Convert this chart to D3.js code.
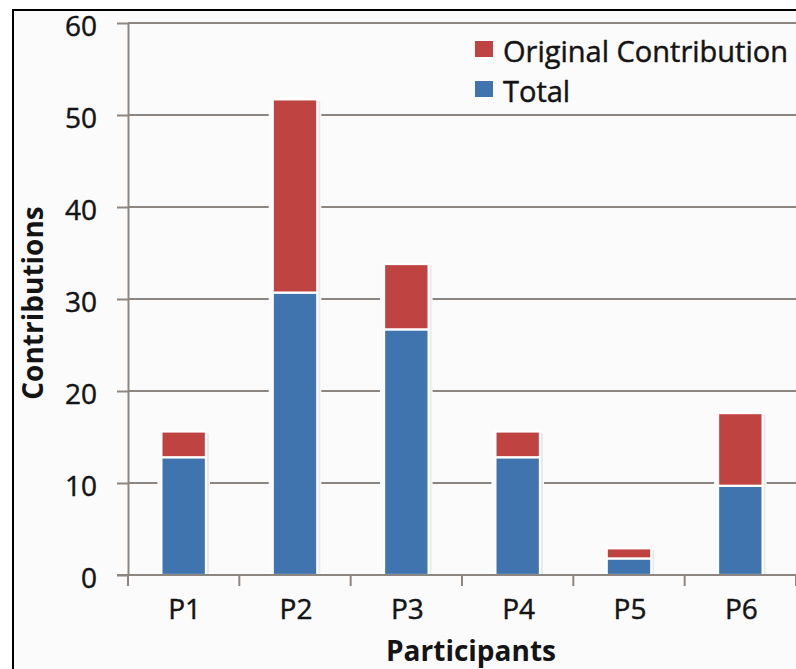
<!DOCTYPE html>
<html>
<head>
<meta charset="utf-8">
<script src="https://cdn.jsdelivr.net/npm/d3@7"></script>
<style>
  html, body { margin: 0; padding: 0; background: #ffffff; }
  svg { display: block; }
  text { font-family: "Open Sans", "DejaVu Sans", sans-serif; fill: #141414; }
  text.reg { stroke: #141414; stroke-width: 0.45px; }
</style>
</head>
<body>
<svg id="chart" width="796" height="669"></svg>
<script>
// ---- data ----
const categories = ["P1", "P2", "P3", "P4", "P5", "P6"];
const totalValues = [12.8, 30.7, 26.7, 12.8, 1.8, 9.7];          // blue, bottom
const originalValues = [2.8, 21.0, 7.1, 2.8, 1.1, 7.9];          // red, stacked on top
const yTicks = [0, 10, 20, 30, 40, 50, 60];
const seriesNames = ["Original Contribution", "Total"];
const seriesColors = { "Original Contribution": "#bf4441", "Total": "#3f74ae" };

// ---- layout ----
const W = 796, H = 669;
const plotLeft = 128, plotRight = 796, plotTop = 23, plotBottom = 575;
const bg = "#fcfbfb";
const gridColor = "#8c8682";

const svg = d3.select("#chart");

// frame
svg.append("rect").attr("x", 0).attr("y", 0).attr("width", W).attr("height", H).attr("fill", "#ffffff");
svg.append("rect").attr("x", 13).attr("y", 10).attr("width", W + 20).attr("height", H + 20)
  .attr("fill", bg).attr("stroke", "#000").attr("stroke-width", 2);

const x = d3.scaleBand().domain(categories).range([plotLeft, plotRight]).padding(0);
const y = d3.scaleLinear().domain([0, 60]).range([plotBottom, plotTop]);

// gridlines
svg.append("g").selectAll("line").data(yTicks.filter(d => d > 0)).join("line")
  .attr("x1", plotLeft).attr("x2", plotRight)
  .attr("y1", d => y(d)).attr("y2", d => y(d))
  .attr("stroke", gridColor).attr("stroke-width", 2);

// stacked data
const rows = categories.map((c, i) => ({ cat: c, "Total": totalValues[i], "Original Contribution": originalValues[i] }));
const stack = d3.stack().keys(["Total", "Original Contribution"]);
const layers = stack(rows);

const bw = x.bandwidth() * 0.4;
const cx = d => x(d) + x.bandwidth() / 2;

// halo (cuts gridlines around the bars) and shadow
const totals = rows.map(r => r["Total"] + r["Original Contribution"]);
svg.append("g").selectAll("rect").data(rows).join("rect")
  .attr("x", (d) => cx(d.cat) - bw / 2 - 4)
  .attr("width", bw + 8)
  .attr("y", (d, i) => y(totals[i]) - 3)
  .attr("height", (d, i) => y(0) - y(totals[i]) + 3)
  .attr("fill", bg);
svg.append("g").selectAll("rect").data(rows).join("rect")
  .attr("x", (d) => cx(d.cat) - bw / 2 + 3)
  .attr("width", bw)
  .attr("y", (d, i) => y(totals[i]) + 2)
  .attr("height", (d, i) => y(0) - y(totals[i]) - 2)
  .attr("fill", "#000").attr("opacity", 0.07);

// bars
svg.append("g").selectAll("g").data(layers).join("g")
  .attr("fill", d => seriesColors[d.key])
  .selectAll("rect").data(d => d).join("rect")
  .attr("x", d => cx(d.data.cat) - bw / 2)
  .attr("width", bw)
  .attr("y", d => y(d[1]))
  .attr("height", d => y(d[0]) - y(d[1]))
  .attr("stroke", "#ffffff").attr("stroke-width", 2.2);

// y axis
const yAxis = svg.append("g").attr("transform", `translate(${plotLeft},0)`)
  .call(d3.axisLeft(y).tickValues(yTicks).tickSizeInner(11).tickSizeOuter(0).tickPadding(20));
yAxis.select(".domain").attr("stroke", gridColor).attr("stroke-width", 2);
yAxis.selectAll(".tick line").attr("stroke", gridColor).attr("stroke-width", 2);
yAxis.selectAll(".tick text").attr("class", "reg").attr("font-size", 28).attr("dy", 12)
  .attr("font-family", "'Open Sans', sans-serif").attr("fill", "#141414");

// x axis line + boundary ticks
svg.append("line").attr("x1", plotLeft - 11).attr("x2", plotRight).attr("y1", y(0)).attr("y2", y(0))
  .attr("stroke", gridColor).attr("stroke-width", 2);
const bounds = categories.map(c => x(c)).concat([x.range()[1]]);
svg.append("g").selectAll("line").data(bounds).join("line")
  .attr("x1", d => d).attr("x2", d => d)
  .attr("y1", y(0)).attr("y2", y(0) + 11)
  .attr("stroke", gridColor).attr("stroke-width", 2);

// x labels
const xAxis = svg.append("g").attr("transform", `translate(0,${plotBottom})`)
  .call(d3.axisBottom(x).tickSize(0).tickPadding(0));
xAxis.select(".domain").remove();
xAxis.selectAll(".tick text").attr("class", "reg").attr("font-size", 28).attr("dy", 44).attr("y", 0)
  .attr("font-family", "'Open Sans', sans-serif").attr("fill", "#141414")
  .attr("transform", "translate(1,0)");

// axis titles
svg.append("text").attr("x", 471).attr("y", 661).attr("text-anchor", "middle")
  .attr("font-size", 28).attr("font-weight", "bold").text("Participants");
svg.append("text").attr("transform", "translate(43,303) rotate(-90)").attr("text-anchor", "middle")
  .attr("font-size", 28).attr("font-weight", "bold").text("Contributions");

// legend
const legend = svg.append("g");
const legY = [62, 102];
seriesNames.forEach((name, i) => {
  legend.append("rect").attr("x", 475).attr("y", legY[i] - 21).attr("width", 18).attr("height", 16)
    .attr("fill", seriesColors[name]);
  legend.append("text").attr("class", "reg").attr("x", 503).attr("y", legY[i]).attr("font-size", 29).text(name);
});
</script>
</body>
</html>
